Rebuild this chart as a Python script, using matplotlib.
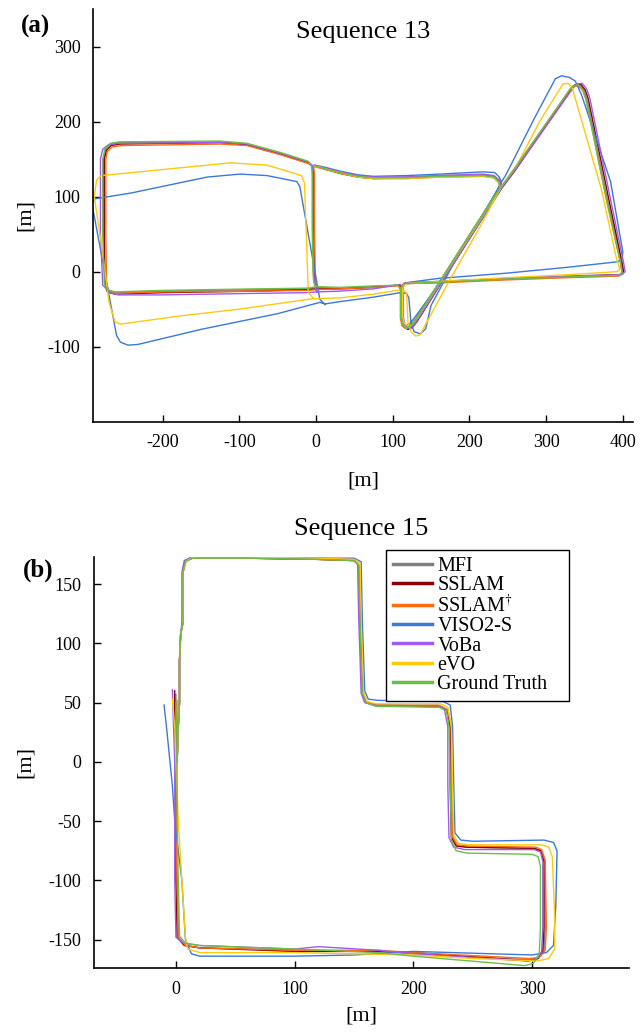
import matplotlib
matplotlib.use("Agg")
import matplotlib.pyplot as plt
import numpy as np

plt.rcParams['font.family'] = ['Liberation Serif', 'DejaVu Serif']
plt.rcParams['mathtext.fontset'] = 'stix'
plt.rcParams['axes.unicode_minus'] = False

methods = ['MFI', 'SSLAM', 'SSLAM$^{\\dagger}$', 'VISO2-S', 'VoBa', 'eVO', 'Ground Truth']
colors = ['#808080', '#8B0000', '#FF6A13', '#3C78D8', '#A05AF0', '#FFC90E', '#6DBE45']

# Sequence 13 trajectories (x, z) in metres
gt13 = [(-2, 141), (12, 137), (31, 132), (55, 127), (75, 125), (118, 125), (162, 127), (218, 128), (232, 126), (238, 120), (240, 112),
        (205, 56), (162, -13), (130, -64), (124, -72), (118, -75), (113, -71), (111, -62), (111, -22), (115, -16),
        (162, -14), (249, -10), (330, -7), (395, -5), (399, -1), (397, 12), (379, 95), (352, 230), (348, 242), (342, 249), (335, 247), (331, 243),
        (292, 186), (257, 135), (240, 111),
        (205, 56), (162, -13), (130, -64), (124, -72), (118, -75), (113, -71), (111, -62), (111, -24), (107, -18),
        (75, -19), (31, -21), (1, -20), (-10, -22), (-80, -23), (-200, -25), (-262, -27), (-272, -24), (-276, -15),
        (-278, 50), (-278, 150), (-275, 164), (-268, 171), (-256, 173), (-125, 174), (-90, 171), (-47, 159), (-10, 147), (-6, 142),
        (-5, 130), (-5, 60), (-4, 0), (-3, -14), (0, -20)]

mfi13 = [(-2, 141), (12, 137), (31, 132), (55, 127), (75, 125), (118, 126), (162, 128), (218, 129), (232, 127), (238, 121), (240, 113),
         (205, 57), (162, -12), (130, -63), (124, -71), (118, -74), (113, -70), (111, -61), (111, -22), (115, -15),
         (162, -13), (249, -9), (330, -6), (396, -4), (400, 0), (398, 12), (380, 95), (353, 230), (349, 242), (343, 250), (336, 248), (332, 244),
         (293, 186), (258, 135), (241, 112),
         (206, 56), (163, -13), (131, -64), (125, -73), (119, -76), (114, -72), (112, -62), (112, -24), (108, -18),
         (75, -20), (31, -22), (1, -21), (-10, -23), (-80, -24), (-200, -26), (-262, -28), (-271, -25), (-275, -15),
         (-277, 50), (-277, 150), (-274, 164), (-268, 170), (-256, 172), (-125, 173), (-90, 170), (-47, 158), (-10, 146), (-5, 141),
         (-4, 130), (-4, 60), (-3, 0), (-2, -14), (1, -21)]

sslam13 = [(-2, 141), (12, 137), (31, 131), (55, 126), (75, 124), (118, 125), (162, 127), (218, 128), (232, 126), (238, 120), (241, 112),
           (206, 55), (163, -14), (131, -65), (125, -73), (119, -76), (114, -72), (112, -62), (112, -22), (116, -16),
           (162, -14), (249, -10), (330, -7), (397, -4), (401, 0), (399, 12), (382, 95), (355, 230), (351, 242), (345, 250), (338, 249), (334, 245),
           (294, 186), (259, 134), (242, 111),
           (207, 55), (164, -14), (132, -66), (126, -74), (120, -77), (115, -73), (113, -63), (113, -24), (109, -18),
           (75, -21), (31, -23), (1, -23), (-10, -24), (-80, -26), (-200, -28), (-262, -30), (-272, -27), (-275, -17),
           (-276, 50), (-276, 150), (-273, 162), (-267, 168), (-256, 170), (-125, 172), (-90, 169), (-47, 157), (-10, 145), (-4, 140),
           (-3, 130), (-3, 60), (-2, 0), (-1, -16), (2, -23)]

sslam2_13 = [(-2, 140), (12, 136), (31, 131), (55, 126), (75, 124), (118, 124), (162, 126), (218, 127), (232, 125), (238, 119), (240, 111),
             (204, 55), (161, -14), (129, -65), (123, -73), (117, -76), (112, -72), (110, -62), (110, -22), (114, -16),
             (162, -15), (249, -11), (330, -8), (395, -6), (399, -2), (397, 11), (379, 94), (352, 229), (348, 241), (342, 248), (335, 246), (331, 242),
             (292, 185), (257, 134), (240, 110),
             (205, 55), (162, -14), (130, -65), (124, -73), (118, -76), (113, -72), (111, -62), (111, -24), (107, -19),
             (75, -21), (31, -23), (1, -24), (-10, -25), (-80, -26), (-200, -27), (-262, -29), (-270, -26), (-273, -17),
             (-274, 50), (-274, 150), (-272, 160), (-266, 166), (-254, 168), (-125, 170), (-90, 168), (-47, 156), (-10, 144), (-3, 139),
             (-2, 130), (-2, 60), (-1, 0), (0, -16), (3, -24)]

viso13 = [(-2, 142), (12, 139), (31, 134), (55, 129), (75, 127), (118, 128), (162, 130), (218, 133), (233, 132), (239, 126), (242, 118),
          (208, 60), (165, -10), (128, -62), (122, -70), (117, -72), (113, -68), (112, -58), (112, -24), (116, -15),
          (160, -9), (249, -2), (330, 6), (392, 13), (399, 16), (400, 26), (384, 120), (346, 236), (338, 254), (330, 259), (320, 261), (312, 257),
          (284, 203), (257, 148), (247, 128), (242, 120),
          (215, 68), (180, 12), (150, -45), (143, -76), (136, -83), (128, -80), (124, -70), (121, -35), (118, -29), (110, -28),
          (75, -34), (31, -40), (12, -43), (5, -41), (-50, -56), (-150, -77), (-232, -97), (-245, -98), (-255, -94), (-260, -85),
          (-292, 90), (-288, 97), (-240, 105), (-142, 126), (-99, 130), (-64, 128), (-25, 120), (-21, 113), (5, -37), (12, -44)]

voba13 = [(-2, 142), (12, 138), (31, 133), (55, 128), (75, 126), (118, 126), (162, 128), (218, 130), (232, 128), (239, 122), (242, 114),
          (207, 57), (164, -12), (132, -63), (126, -72), (120, -75), (115, -71), (113, -61), (113, -21), (117, -15),
          (162, -13), (249, -9), (330, -6), (399, -4), (403, 0), (401, 12), (384, 96), (357, 231), (353, 243), (347, 251), (340, 250), (336, 246),
          (296, 188), (260, 136), (243, 113),
          (208, 57), (165, -12), (133, -63), (127, -72), (121, -75), (116, -71), (114, -61), (114, -23), (110, -17),
          (75, -23), (31, -26), (1, -27), (-10, -28), (-80, -29), (-200, -31), (-258, -31), (-268, -28), (-278, -18),
          (-281, 50), (-281, 150), (-278, 163), (-271, 169), (-258, 171), (-125, 172), (-90, 170), (-47, 158), (-10, 146), (-5, 142),
          (-4, 130), (-4, 60), (-3, 0), (-2, -16), (1, -27)]

evo13 = [(-2, 141), (12, 137), (31, 132), (55, 126), (75, 124), (118, 124), (162, 126), (218, 127), (232, 125), (238, 119), (240, 111),
         (206, 56), (163, -12), (132, -62), (126, -70), (120, -73), (115, -69), (113, -60), (113, -22), (117, -16),
         (162, -13), (249, -8), (330, -4), (393, 0), (396, 4), (392, 16), (372, 110), (334, 245), (329, 251), (322, 250),
         (292, 201), (262, 142), (242, 114),
         (215, 62), (175, -10), (143, -70), (136, -84), (130, -86), (124, -80), (120, -68), (118, -28), (112, -24),
         (75, -30), (31, -35), (0, -36), (-4, -36), (-100, -50), (-177, -59), (-255, -70), (-262, -67), (-270, -40), (-277, 16),
         (-289, 100), (-286, 122), (-280, 128), (-200, 136), (-112, 145), (-64, 142), (-19, 128), (-15, 118), (-10, -28), (-3, -36)]

# Sequence 15 trajectories (x, z) in metres
gt15 = [(1, 0), (2, 30), (3, 50), (3, 85), (4, 108), (6, 118), (6, 160), (8, 169), (14, 172), (60, 172), (120, 171), (150, 170),
        (154, 166), (155, 120), (156, 90), (157, 58), (160, 50), (168, 47), (222, 46), (228, 43), (230, 30), (231, -20), (232, -66),
        (236, -75), (245, -77), (300, -78), (305, -80), (307, -88), (307, -140), (306, -162), (301, -170), (294, -172), (200, -164),
        (170, -161), (100, -158), (20, -155), (8, -153), (3, -147), (2, -100), (1, -50), (1, 0), (1, 30), (1, 52)]

mfi15 = [(1, 0), (2, 30), (3, 50), (3, 85), (4, 108), (6, 118), (6, 160), (8, 170), (14, 172), (60, 172), (120, 171), (150, 170),
         (154, 166), (155, 120), (156, 90), (157, 58), (160, 51), (168, 48), (222, 47), (228, 44), (231, 30), (232, -20), (233, -64),
         (237, -71), (246, -72), (302, -73), (308, -75), (311, -84), (311, -140), (310, -160), (305, -166), (297, -167), (200, -162),
         (170, -160), (100, -159), (20, -157), (8, -155), (2, -148), (1, -100), (0, -50), (0, 0), (0, 30), (0, 57)]

sslam15 = [(1, 0), (2, 30), (3, 50), (3, 85), (4, 108), (6, 118), (6, 160), (8, 170), (14, 172), (60, 172), (120, 171), (150, 170),
           (154, 166), (155, 120), (156, 90), (157, 58), (160, 50), (168, 48), (222, 47), (228, 44), (231, 30), (231, -20), (232, -64),
           (236, -71), (245, -72), (302, -73), (307, -75), (310, -84), (310, -140), (309, -160), (305, -166), (297, -168), (200, -161),
           (170, -160), (100, -160), (20, -157), (7, -155), (1, -148), (0, -100), (0, -50), (0, 0), (-1, 30), (-1, 60)]

sslam2_15 = [(1, 0), (2, 30), (3, 50), (3, 85), (4, 108), (6, 118), (6, 160), (8, 170), (14, 172), (60, 172), (120, 171), (150, 170),
             (154, 166), (156, 120), (157, 90), (158, 58), (161, 50), (169, 48), (223, 47), (229, 44), (232, 30), (232, -20), (233, -63),
             (237, -70), (246, -71), (303, -72), (308, -74), (311, -83), (312, -140), (311, -159), (306, -165), (298, -166), (200, -161),
             (170, -159), (100, -159), (20, -157), (8, -155), (2, -148), (1, -100), (0, -50), (0, 0), (0, 30), (0, 50)]

viso15 = [(1, 0), (1, 30), (3, 50), (3, 85), (4, 108), (6, 118), (6, 160), (8, 170), (14, 173), (60, 173), (120, 172), (150, 172),
          (156, 169), (157, 120), (158, 90), (159, 60), (162, 53), (170, 52), (225, 51), (231, 48), (233, 30), (234, -20), (235, -60),
          (240, -66), (250, -67), (310, -66), (318, -68), (321, -75), (320, -120), (318, -155), (312, -161), (300, -163), (200, -160),
          (150, -163), (100, -164), (20, -164), (13, -162), (8, -150), (5, -100), (-1, -50), (-3, -20), (-6, 10), (-8, 30), (-10, 48)]

voba15 = [(1, 0), (2, 30), (3, 50), (3, 85), (4, 108), (5, 118), (5, 160), (7, 170), (13, 173), (60, 173), (120, 172), (150, 171),
          (153, 167), (154, 120), (155, 90), (156, 58), (159, 50), (167, 48), (221, 48), (226, 45), (229, 30), (229, -20), (230, -64),
          (234, -72), (243, -74), (302, -74), (307, -76), (309, -84), (309, -140), (308, -160), (304, -166), (296, -168), (200, -162),
          (170, -159), (120, -156), (100, -158), (20, -155), (6, -153), (0, -148), (-1, -100), (-1, -50), (-1, 0), (-2, 30), (-3, 61)]

evo15 = [(1, 0), (2, 30), (3, 50), (3, 85), (4, 108), (6, 118), (6, 160), (9, 170), (15, 173), (60, 173), (120, 172), (150, 171),
         (155, 168), (156, 120), (157, 90), (158, 58), (161, 51), (169, 49), (223, 49), (229, 46), (232, 30), (233, -20), (234, -62),
         (238, -69), (247, -70), (308, -70), (314, -72), (317, -80), (319, -130), (319, -158), (314, -166), (305, -168), (250, -166),
         (200, -163), (100, -161), (20, -161), (10, -158), (8, -148), (5, -100), (2, -50), (0, 0), (-1, 30), (-3, 53)]

seq13 = [mfi13, sslam13, sslam2_13, viso13, voba13, evo13, gt13]
seq15 = [mfi15, sslam15, sslam2_15, viso15, voba15, evo15, gt15]

fig = plt.figure(figsize=(6.43, 10.35), dpi=100)
ax1 = fig.add_axes([93 / 643, 1 - 421.7 / 1035, 539.5 / 643, 412.7 / 1035])
ax2 = fig.add_axes([94 / 643, 1 - 968 / 1035, 535 / 643, 411 / 1035])

for ax, runs in [(ax1, seq13), (ax2, seq15)]:
    for run, name, col in zip(runs, methods, colors):
        pts = np.array(run, dtype=float)
        ax.plot(pts[:, 0], pts[:, 1], color=col, lw=1.0, label=name)
    for side in ['top', 'right']:
        ax.spines[side].set_visible(False)
    for side in ['left', 'bottom']:
        ax.spines[side].set_linewidth(1.2)
    ax.tick_params(direction='in', length=5, width=1, labelsize=13, pad=9)

ax1.set_xlim(-290.7, 412.6)
ax1.set_ylim(-200, 350)
ax1.set_xticks(np.arange(-200, 401, 100))
ax1.set_yticks(np.arange(-100, 301, 100))

ax2.set_xlim(-69, 381.6)
ax2.set_ylim(-174, 173)
ax2.set_xticks(np.arange(0, 301, 100))
ax2.set_yticks(np.arange(-150, 151, 50))

leg = ax2.legend(loc='upper left', bbox_to_anchor=(386 / 643, 1 - 550 / 1035, 183 / 643, 0),
                 bbox_transform=fig.transFigure, mode='expand', fontsize=14.5, fancybox=False,
                 edgecolor='black', framealpha=1, borderpad=0.35, labelspacing=0.0,
                 handlelength=1.95, handletextpad=0.25, borderaxespad=0)
leg.get_frame().set_linewidth(1.0)
for ln in leg.get_lines():
    ln.set_linewidth(2.5)

fig.text(36 / 643, 1 - 26 / 1035, '(a)', fontsize=18, fontweight='bold', ha='center', va='center')
fig.text(38 / 643, 1 - 570 / 1035, '(b)', fontsize=18, fontweight='bold', ha='center', va='center')
fig.text(363 / 643, 1 - 32 / 1035, 'Sequence 13', fontsize=19, ha='center', va='center')
fig.text(361 / 643, 1 - 529 / 1035, 'Sequence 15', fontsize=19, ha='center', va='center')
fig.text(363 / 643, 1 - 481 / 1035, '[m]', fontsize=16, ha='center', va='center')
fig.text(361 / 643, 1 - 1016 / 1035, '[m]', fontsize=16, ha='center', va='center')
fig.text(25 / 643, 1 - 215 / 1035, '[m]', fontsize=16, ha='center', va='center', rotation=90)
fig.text(25 / 643, 1 - 762 / 1035, '[m]', fontsize=16, ha='center', va='center', rotation=90)

fig.savefig('out.png', dpi=100)
